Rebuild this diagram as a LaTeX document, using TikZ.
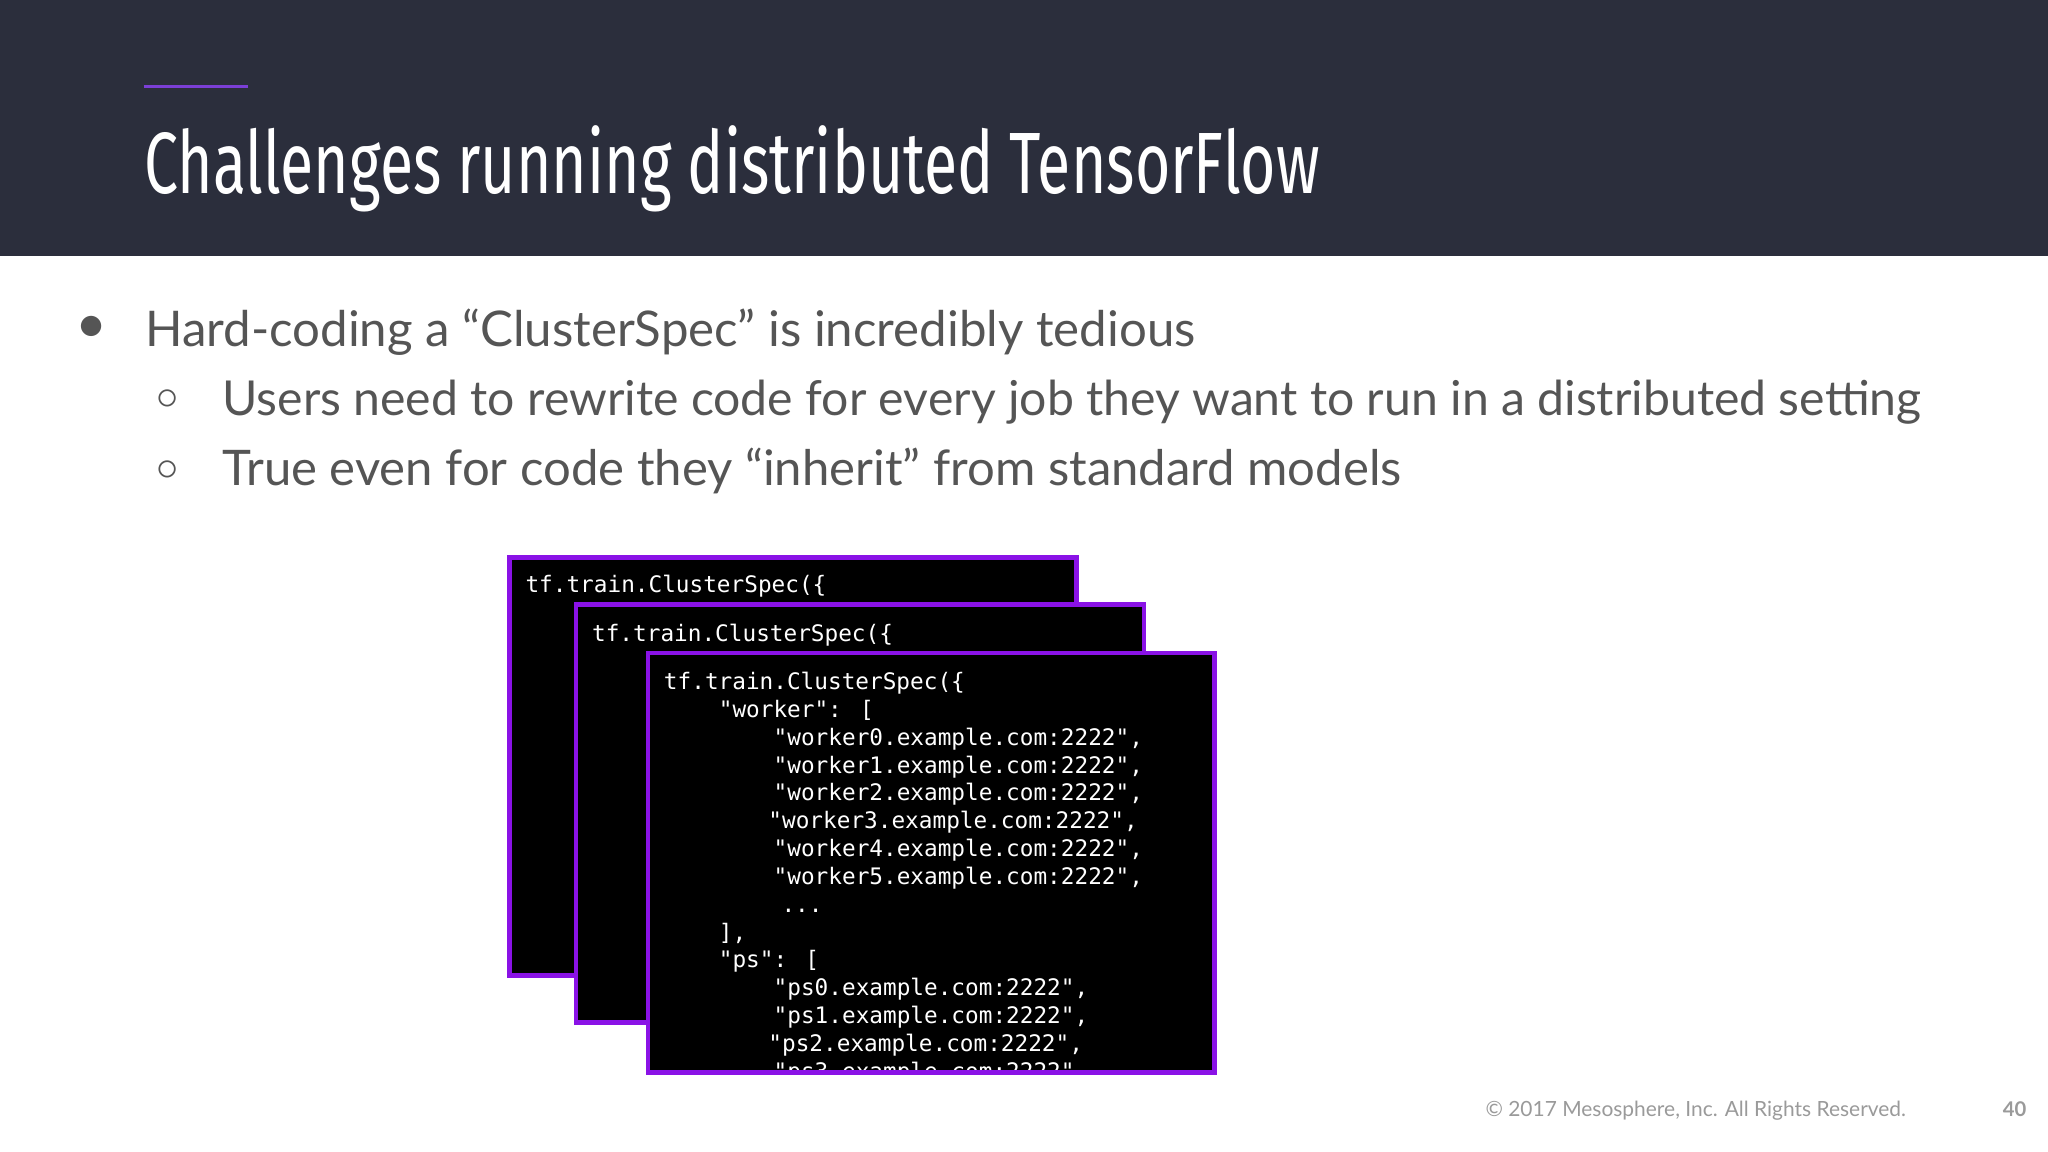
\documentclass[tikz,border=0pt]{standalone}
\usepackage{fontspec}
\setmainfont{Lato}
\newfontfamily\titlefont{Fira Sans}
\newfontfamily\codefont{DejaVu Sans Mono}
\usepackage{graphicx}
\definecolor{band}{HTML}{2B2E3C}
\definecolor{accent}{HTML}{7B3FD6}
\definecolor{boxpurple}{HTML}{8A12E6}
\definecolor{bodygray}{HTML}{555555}
\definecolor{footgray}{HTML}{9A9A9A}
\begin{document}
\begin{tikzpicture}[x=0.02cm,y=-0.02cm,
  txt/.style={anchor=base west,inner sep=0pt,text=bodygray},
  codebox/.style={draw=boxpurple,line width=0.07cm,fill=black},
  code/.style={anchor=base west,inner sep=0pt,text=white,font=\codefont\fontsize{9.9}{10}\selectfont}]
\useasboundingbox (0,0) rectangle (1568,882);
\fill[white] (0,0) rectangle (1568,882);
\fill[band] (0,0) rectangle (1568,196);
\draw[accent,line width=0.05cm] (110,66) -- (190,66);
\node[txt,text=white] (title) at (110,148) {\resizebox{18cm}{1.04cm}{\titlefont\fontsize{40}{40}\selectfont Challenges running distributed TensorFlow}};
\node[text=bodygray,inner sep=0pt,font=\Large] (b1) at (70,251) {\resizebox{0.4cm}{!}{$\bullet$}};
\node[txt] (t1) at (111,265) {\resizebox{16.08cm}{!}{\fontsize{24}{28}\selectfont Hard-coding a “ClusterSpec” is incredibly tedious}};
\node[text=bodygray,inner sep=0pt] (b2) at (128,306) {\resizebox{0.34cm}{!}{$\circ$}};
\node[txt] (t2) at (170,318) {\resizebox{26.02cm}{!}{\fontsize{24}{28}\selectfont Users need to rewrite code for every job they want to run in a distributed setting}};
\node[text=bodygray,inner sep=0pt] (b3) at (128,360) {\resizebox{0.34cm}{!}{$\circ$}};
\node[txt] (t3) at (170,372) {\resizebox{18.06cm}{!}{\fontsize{24}{28}\selectfont True even for code they “inherit” from standard models}};
% boxes
\draw[codebox] (390,427) rectangle (824,747);
\node[code] (c1) at (402,454) {tf.train.ClusterSpec(\{};
\draw[codebox] (441,463) rectangle (876,783);
\node[code] (c2) at (453,491) {tf.train.ClusterSpec(\{};
\draw[codebox] (496,500) rectangle (930,821);
\begin{scope}
\clip (498,502) rectangle (928,819);
\node[code] at (508,528) {tf.train.ClusterSpec(\{};
\node[code] at (550,549.3) {"worker": [};
\node[code] at (592,570.6) {"worker0.example.com:2222",};
\node[code] at (592,591.9) {"worker1.example.com:2222",};
\node[code] at (592,613.2) {"worker2.example.com:2222",};
\node[code] at (588,634.5) {"worker3.example.com:2222",};
\node[code] at (592,655.8) {"worker4.example.com:2222",};
\node[code] at (592,677.1) {"worker5.example.com:2222",};
\node[code] at (598,698.4) {...};
\node[code] at (550,719.7) {],};
\node[code] at (550,741) {"ps": [};
\node[code] at (592,762.3) {"ps0.example.com:2222",};
\node[code] at (592,783.6) {"ps1.example.com:2222",};
\node[code] at (588,804.9) {"ps2.example.com:2222",};
\node[code] at (592,826.2) {"ps3.example.com:2222",};
\end{scope}
\draw[draw=boxpurple,line width=0.07cm] (496,500) rectangle (930,821);
% footer
\node[txt,text=footgray] (foot) at (1137,855) {\resizebox{6.44cm}{!}{\fontsize{12}{14}\selectfont © 2017 Mesosphere, Inc. All Rights Reserved.}};
\node[txt,text=footgray] (page) at (1533,855) {\resizebox{0.36cm}{!}{\fontsize{12}{14}\selectfont\bfseries 40}};
\end{tikzpicture}
\end{document}
